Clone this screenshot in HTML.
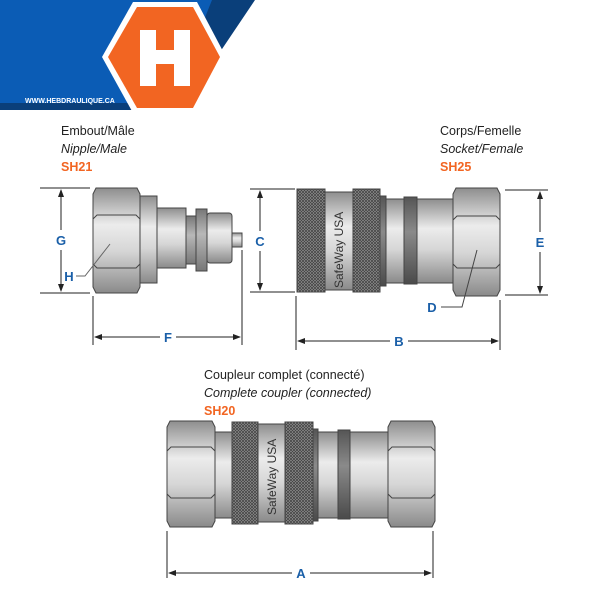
<!DOCTYPE html>
<html><head><meta charset="utf-8"><style>
html,body{margin:0;padding:0;background:#fff;}
svg{display:block;}
text{font-family:"Liberation Sans",sans-serif;}
</style></head><body>
<svg width="600" height="600" viewBox="0 0 600 600" xmlns="http://www.w3.org/2000/svg">
<defs>
<linearGradient id="m" x1="0" y1="0" x2="0" y2="1">
<stop offset="0" stop-color="#8e8e8e"/><stop offset="0.35" stop-color="#ececec"/><stop offset="0.6" stop-color="#d6d6d6"/><stop offset="1" stop-color="#8a8a8a"/>
</linearGradient>
<linearGradient id="d" x1="0" y1="0" x2="0" y2="1">
<stop offset="0" stop-color="#555"/><stop offset="0.4" stop-color="#8a8a8a"/><stop offset="1" stop-color="#4a4a4a"/>
</linearGradient>
<linearGradient id="b" x1="0" y1="0" x2="0" y2="1">
<stop offset="0" stop-color="#777"/><stop offset="0.4" stop-color="#b8b8b8"/><stop offset="1" stop-color="#777"/>
</linearGradient>
<pattern id="k" width="3" height="3" patternUnits="userSpaceOnUse">
<rect width="3" height="3" fill="#9a9a9a"/>
<path d="M0 0L3 3M3 0L0 3" stroke="#444" stroke-width="0.8"/>
</pattern>
<marker id="ar" markerWidth="8" markerHeight="6" refX="7" refY="3" orient="auto-start-reverse"><path d="M0 0L8 3L0 6z" fill="#222"/></marker>
</defs>

<!-- logo -->
<polygon points="0,0 225,0 180,110 0,110" fill="#0b5cb5"/>
<polygon points="212,0 255,0 218,55 200,30" fill="#0a3f7a"/>
<rect x="0" y="103" width="135" height="7" fill="#0a3f7a"/>
<polygon points="102,57 133,2 197,2 226,57 197,113 133,113" fill="#fff"/>
<polygon points="108,57 137,7 193,7 220,57 193,108 137,108" fill="#f26522"/>
<path d="M140,30 h16 v20 h18 v-20 h16 v56 h-16 v-22 h-18 v22 h-16z" fill="#fff"/>
<text x="25" y="103" font-size="7" fill="#fff" font-weight="bold">WWW.HEBDRAULIQUE.CA</text>

<!-- titles -->
<g font-size="12.5" fill="#222">
<text x="61" y="135">Embout/Mâle</text>
<text x="61" y="153" font-style="italic">Nipple/Male</text>
<text x="61" y="171" fill="#f26522" font-weight="bold">SH21</text>
<text x="440" y="135">Corps/Femelle</text>
<text x="440" y="153" font-style="italic">Socket/Female</text>
<text x="440" y="171" fill="#f26522" font-weight="bold">SH25</text>
<text x="204" y="379">Coupleur complet (connecté)</text>
<text x="204" y="397" font-style="italic">Complete coupler (connected)</text>
<text x="204" y="415" fill="#f26522" font-weight="bold">SH20</text>
</g>

<g stroke="#444" stroke-width="1">
<!-- nipple -->
<rect x="232" y="233" width="10" height="14" fill="url(#m)"/>
<rect x="207" y="213" width="25" height="50" rx="3" fill="url(#m)"/>
<rect x="196" y="209" width="11" height="62" fill="url(#b)"/>
<rect x="186" y="216" width="10" height="48" fill="url(#b)"/>
<rect x="157" y="208" width="29" height="60" fill="url(#m)"/>
<rect x="140" y="196" width="17" height="87" fill="url(#m)"/>
<path d="M96,188 h41 l3,6 v93 l-3,6 h-41 l-3,-6 v-93z" fill="url(#m)"/>
<path d="M93,219 l4,-4 h39 l4,4 M93,264 l4,4 h39 l4,-4" fill="none"/>

<!-- socket -->
<rect x="386" y="199" width="67" height="84" fill="url(#m)"/>
<rect x="404" y="197" width="13" height="87" fill="url(#d)"/>
<rect x="380" y="196" width="6" height="90" fill="url(#d)"/>
<rect x="297" y="189" width="28" height="103" fill="url(#k)"/>
<rect x="325" y="192" width="28" height="98" fill="url(#m)"/>
<rect x="353" y="189" width="27" height="103" fill="url(#k)"/>
<path d="M456,188 h41 l3,6 v96 l-3,6 h-41 l-3,-6 v-96z" fill="url(#m)"/>
<path d="M453,220 l4,-4 h39 l4,4 M453,264 l4,4 h39 l4,-4" fill="none"/>

<!-- coupler -->
<rect x="318" y="432" width="70" height="86" fill="url(#m)"/>
<rect x="338" y="430" width="12" height="89" fill="url(#d)"/>
<rect x="313" y="429" width="5" height="92" fill="url(#d)"/>
<rect x="215" y="432" width="17" height="86" fill="url(#m)"/>
<rect x="232" y="422" width="26" height="102" fill="url(#k)"/>
<rect x="258" y="424" width="27" height="98" fill="url(#m)"/>
<rect x="285" y="422" width="28" height="102" fill="url(#k)"/>
<path d="M170,421 h42 l3,6 v94 l-3,6 h-42 l-3,-6 v-94z" fill="url(#m)"/>
<path d="M167,451 l4,-4 h40 l4,4 M167,494 l4,4 h40 l4,-4" fill="none"/>
<path d="M391,421 h41 l3,6 v94 l-3,6 h-41 l-3,-6 v-94z" fill="url(#m)"/>
<path d="M388,451 l4,-4 h39 l4,4 M388,494 l4,4 h39 l4,-4" fill="none"/>
</g>
<text transform="translate(343,288) rotate(-90)" font-size="12" fill="#333">SafeWay USA</text>
<text transform="translate(276,515) rotate(-90)" font-size="12" fill="#333">SafeWay USA</text>

<!-- dimensions -->
<g stroke="#222" stroke-width="1" fill="none">
<path d="M40,188H90M40,293H90M250,189H295M250,292H295M505,190H548M505,295H548"/>
<path d="M93,296V345M242,250V345M296,296V350M500,300V350M167,531V578M433,531V578"/>
<line x1="61" y1="190" x2="61" y2="230" marker-start="url(#ar)"/>
<line x1="61" y1="250" x2="61" y2="291" marker-end="url(#ar)"/>
<line x1="260" y1="191" x2="260" y2="231" marker-start="url(#ar)"/>
<line x1="260" y1="251" x2="260" y2="290" marker-end="url(#ar)"/>
<line x1="540" y1="192" x2="540" y2="232" marker-start="url(#ar)"/>
<line x1="540" y1="252" x2="540" y2="293" marker-end="url(#ar)"/>
<line x1="95" y1="337" x2="160" y2="337" marker-start="url(#ar)"/>
<line x1="176" y1="337" x2="240" y2="337" marker-end="url(#ar)"/>
<line x1="298" y1="341" x2="390" y2="341" marker-start="url(#ar)"/>
<line x1="408" y1="341" x2="498" y2="341" marker-end="url(#ar)"/>
<line x1="169" y1="573" x2="292" y2="573" marker-start="url(#ar)"/>
<line x1="310" y1="573" x2="431" y2="573" marker-end="url(#ar)"/>
<path d="M76,276H85L110,244" stroke="#666"/>
<path d="M441,307H462L477,250" stroke="#444"/>
</g>
<g font-size="13" font-weight="bold" fill="#1a5fa8" text-anchor="middle">
<text x="61" y="245">G</text>
<text x="69" y="281">H</text>
<text x="168" y="342">F</text>
<text x="260" y="246">C</text>
<text x="540" y="247">E</text>
<text x="432" y="312">D</text>
<text x="399" y="346">B</text>
<text x="301" y="578">A</text>
</g>
</svg>
</body></html>
